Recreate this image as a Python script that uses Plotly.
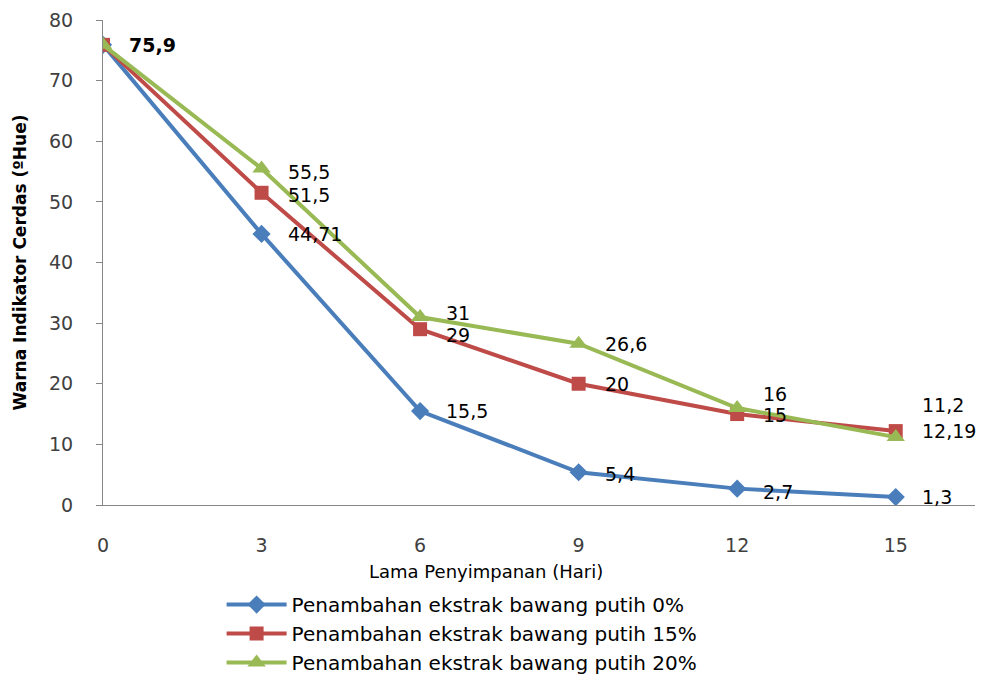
import plotly.graph_objects as go

days = [0, 3, 6, 9, 12, 15]
series_names = [
    "Penambahan ekstrak bawang putih 0%",
    "Penambahan ekstrak bawang putih 15%",
    "Penambahan ekstrak bawang putih 20%",
]
hue_0 = [75.9, 44.71, 15.5, 5.4, 2.7, 1.3]
hue_15 = [75.9, 51.5, 29, 20, 15, 12.19]
hue_20 = [75.9, 55.5, 31, 26.6, 16, 11.2]
labels_0 = ["75,9", "44,71", "15,5", "5,4", "2,7", "1,3"]
labels_15 = ["", "51,5", "29", "20", "15", "11,2"]
labels_20 = ["", "55,5", "31", "26,6", "16", "12,19"]
x_ticks = [0, 3, 6, 9, 12, 15]
y_ticks = [0, 10, 20, 30, 40, 50, 60, 70, 80]
x_title = "Lama Penyimpanan (Hari)"
y_title = "Warna Indikator Cerdas (ºHue)"

colors = ["#4A7EBB", "#BE4B48", "#98B954"]
symbols = ["diamond", "square", "triangle-up"]
msizes = [14, 14, 16]
values = [hue_0, hue_15, hue_20]
labels = [labels_0, labels_15, labels_20]

fig = go.Figure()
for name, vals, col, sym, ms in zip(series_names, values, colors, symbols, msizes):
    fig.add_trace(go.Scatter(
        x=days, y=vals, name=name, mode="lines+markers",
        line=dict(color=col, width=4),
        marker=dict(symbol=sym, size=ms, color=col),
    ))

FONT = "DejaVu Sans"
# label vertical offsets (px) to mimic original placement
yshift = {
    (0, 0): 0, (1, 5): 26, (2, 5): 6,
    (1, 2): -6, (2, 2): 4, (1, 1): -2, (2, 1): -3,
    (2, 4): 14, (1, 4): -1, (0, 4): -3, (0, 3): -2,
}
for si, (vals, labs) in enumerate(zip(values, labels)):
    for i, (x, y, t) in enumerate(zip(days, vals, labs)):
        if not t:
            continue
        bold = (si == 0 and i == 0)
        fig.add_annotation(
            x=x, y=y, text=f"<b>{t}</b>" if bold else t,
            showarrow=False, xanchor="left", yanchor="middle",
            xshift=24, yshift=yshift.get((si, i), 0),
            font=dict(family=FONT, size=19, color="#000000"),
        )

fig.add_annotation(
    text=x_title, xref="paper", yref="paper", x=0.439, y=-0.138,
    xanchor="center", yanchor="middle", showarrow=False,
    font=dict(family=FONT, size=18, color="#000000"),
)

fig.update_layout(
    width=985, height=679,
    paper_bgcolor="white", plot_bgcolor="white",
    margin=dict(l=95, r=18, t=12, b=182, autoexpand=False),
    font=dict(family=FONT, color="#404040"),
    xaxis=dict(
        range=[0, 16.5], tickvals=x_ticks, ticktext=[str(v) for v in x_ticks],
        showgrid=False, zeroline=False, showline=True, linecolor="#868686", linewidth=1,
        ticks="outside", ticklen=6, tickcolor="rgba(0,0,0,0)",
        ticklabelstandoff=17, automargin=False,
        tickfont=dict(family=FONT, size=19, color="#404040"),
    ),
    yaxis=dict(
        range=[0, 80], tickvals=y_ticks,
        showgrid=False, zeroline=False, showline=True, linecolor="#868686", linewidth=1,
        ticks="outside", ticklen=6, tickcolor="#868686",
        ticklabelstandoff=19, automargin=False,
        tickfont=dict(family=FONT, size=19, color="#404040"),
        title=dict(text=f"<b>{y_title}</b>", font=dict(family=FONT, size=17, color="#000000"), standoff=18),
    ),
    legend=dict(
        orientation="v", x=0.136, xanchor="left", y=-0.165, yanchor="top",
        font=dict(family=FONT, size=20, color="#000000"),
        itemwidth=60, tracegroupgap=0, bgcolor="rgba(0,0,0,0)",
    ),
    showlegend=True,
)

fig.write_html("out.html")
